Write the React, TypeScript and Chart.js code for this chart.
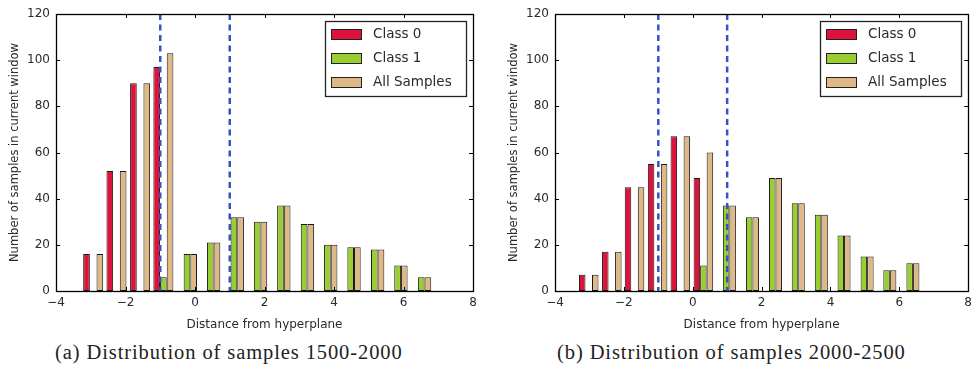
import React, { useEffect, useRef } from 'react';
import { Chart, registerables } from 'chart.js';

Chart.register(...registerables);

// ---- data ----
const binCentersA = [-2.93, -2.26, -1.58, -0.91, -0.23, 0.44, 1.12, 1.79, 2.46, 3.14, 3.81, 4.48, 5.16, 5.83, 6.51];
const class0A = [16, 52, 90, 97, 0, 0, 0, 0, 0, 0, 0, 0, 0, 0, 0];
const class1A = [0, 0, 0, 6, 16, 21, 32, 30, 37, 29, 20, 19, 18, 11, 6];
const allA = [16, 52, 90, 103, 16, 21, 32, 30, 37, 29, 20, 19, 18, 11, 6];

const binCentersB = [-3.02, -2.35, -1.69, -1.02, -0.36, 0.31, 0.97, 1.64, 2.31, 2.97, 3.64, 4.3, 4.97, 5.63, 6.3];
const class0B = [7, 17, 45, 55, 67, 49, 0, 0, 0, 0, 0, 0, 0, 0, 0];
const class1B = [0, 0, 0, 0, 0, 11, 37, 32, 49, 38, 33, 24, 15, 9, 12];
const allB = [7, 17, 45, 55, 67, 60, 37, 32, 49, 38, 33, 24, 15, 9, 12];

const seriesNames = ['Class 0', 'Class 1', 'All Samples'];
const seriesColors = ['#DC143C', '#9ACD32', '#DEB887'];
const thresholdLines = [-1, 1];
const xMin = -4;
const xMax = 8;
const yMin = 0;
const yMax = 120;
const xTitle = 'Distance from hyperplane';
const yTitle = 'Number of samples in current window';
const captionA = '(a) Distribution of samples 1500-2000';
const captionB = '(b) Distribution of samples 2000-2500';

const FONT = "'DejaVu Sans', sans-serif";
const TEXT = '#2a2a2a';

const frameTicks = {
  id: 'frameTicks',
  afterDatasetsDraw(chart: any) {
    const { ctx, chartArea: a, scales } = chart;
    ctx.save();
    // threshold dashed lines
    ctx.strokeStyle = '#3553c4';
    ctx.lineWidth = 2.5;
    ctx.setLineDash([6, 4.5]);
    for (const v of thresholdLines) {
      const x = scales.x.getPixelForValue(v);
      ctx.beginPath();
      ctx.moveTo(x, a.top);
      ctx.lineTo(x, a.bottom);
      ctx.stroke();
    }
    ctx.setLineDash([]);
    // frame
    ctx.strokeStyle = '#000';
    ctx.lineWidth = 1.3;
    ctx.strokeRect(Math.round(a.left) + 0.5, Math.round(a.top) + 0.5, Math.round(a.right - a.left), Math.round(a.bottom - a.top));
    // inward ticks
    const L = 4;
    ctx.lineWidth = 1;
    ctx.beginPath();
    for (const t of scales.x.ticks) {
      const x = Math.round(scales.x.getPixelForValue(t.value)) + 0.5;
      ctx.moveTo(x, a.bottom);
      ctx.lineTo(x, a.bottom - L);
      ctx.moveTo(x, a.top);
      ctx.lineTo(x, a.top + L);
    }
    for (const t of scales.y.ticks) {
      const y = Math.round(scales.y.getPixelForValue(t.value)) + 0.5;
      ctx.moveTo(a.left, y);
      ctx.lineTo(a.left + L, y);
      ctx.moveTo(a.right, y);
      ctx.lineTo(a.right - L, y);
    }
    ctx.stroke();
    // legend
    const bw = 141;
    const bh = 75;
    const bx = Math.round(a.right - 7 - bw);
    const by = Math.round(a.top + 7);
    ctx.fillStyle = '#fff';
    ctx.fillRect(bx, by, bw, bh);
    ctx.strokeStyle = '#222';
    ctx.lineWidth = 1.3;
    ctx.strokeRect(bx + 0.5, by + 0.5, bw, bh);
    ctx.font = `13.5px ${FONT}`;
    ctx.textBaseline = 'middle';
    seriesNames.forEach((name, i) => {
      const cy = Math.round(by + 12.5 + i * 24);
      ctx.fillStyle = seriesColors[i];
      ctx.fillRect(bx + 6, cy - 5, 30, 10);
      ctx.strokeStyle = '#222';
      ctx.lineWidth = 1;
      ctx.strokeRect(bx + 6.5, cy - 4.5, 30, 10);
      ctx.fillStyle = TEXT;
      ctx.fillText(name, bx + 48, cy + 0.5);
    });
    ctx.restore();
  },
};

const minus = (v: number) => String(v).replace('-', '\u2212');

function Histogram(props: {
  centers: number[];
  series: number[][];
  left: number;
  width: number;
  height: number;
  area: { left: number; right: number; top: number; bottom: number };
}) {
  const ref = useRef<HTMLCanvasElement>(null);
  useEffect(() => {
    const { centers, series, width, height, area } = props;
    const chart = new Chart(ref.current as HTMLCanvasElement, {
      type: 'bar',
      data: {
        datasets: series.map((vals, i) => ({
          label: seriesNames[i],
          data: vals.map((y, k) => ({ x: centers[k], y })),
          backgroundColor: seriesColors[i],
          borderColor: '#1a1a1a',
          borderWidth: 1,
          borderSkipped: false,
          categoryPercentage: 0.86,
          barPercentage: 1.0,
        })),
      },
      options: {
        animation: false,
        responsive: false,
        maintainAspectRatio: false,
        layout: { padding: { left: 0, top: area.top, right: width - area.right, bottom: 0 } },
        plugins: { legend: { display: false }, tooltip: { enabled: false } },
        scales: {
          x: {
            type: 'linear',
            min: xMin,
            max: xMax,
            offset: false,
            grid: { display: false, drawTicks: false },
            border: { display: false },
            ticks: {
              stepSize: 2,
              padding: 5,
              color: TEXT,
              font: { family: FONT, size: 12 },
              callback: (v: any) => minus(v),
              maxRotation: 0,
            },
            title: {
              display: true,
              text: xTitle,
              color: TEXT,
              font: { family: FONT, size: 12 },
              padding: { top: 0, bottom: 3 },
            },
            afterFit: (s: any) => {
              s.height = height - area.bottom;
            },
          },
          y: {
            min: yMin,
            max: yMax,
            grid: { display: false, drawTicks: false },
            border: { display: false },
            ticks: {
              stepSize: 20,
              padding: 6,
              color: TEXT,
              font: { family: FONT, size: 12 },
            },
            title: {
              display: true,
              text: yTitle,
              color: TEXT,
              font: { family: FONT, size: 11.5 },
              padding: { top: 8, bottom: 0 },
            },
            afterFit: (s: any) => {
              s.width = area.left;
            },
          },
        },
      },
      plugins: [frameTicks],
    });
    return () => chart.destroy();
  }, []);
  return (
    <canvas
      ref={ref}
      width={props.width}
      height={props.height}
      style={{ position: 'absolute', left: props.left, top: 0, width: props.width, height: props.height }}
    />
  );
}

const captionStyle: React.CSSProperties = {
  position: 'absolute',
  top: 341,
  fontFamily: "'Liberation Serif', 'Times New Roman', serif",
  fontSize: 20.5,
  letterSpacing: 0.9,
  color: '#222',
  whiteSpace: 'nowrap',
};

export default function App() {
  const area = { left: 56, right: 473, top: 14, bottom: 291 };
  return (
    <div style={{ position: 'fixed', left: 0, top: 0, width: 977, height: 371, background: '#fff', overflow: 'hidden' }}>
      <Histogram centers={binCentersA} series={[class0A, class1A, allA]} left={0} width={490} height={335} area={area} />
      <Histogram centers={binCentersB} series={[class0B, class1B, allB]} left={499} width={478} height={335} area={area} />
      <div style={{ ...captionStyle, left: 55 }}>{captionA}</div>
      <div style={{ ...captionStyle, left: 557 }}>{captionB}</div>
    </div>
  );
}
